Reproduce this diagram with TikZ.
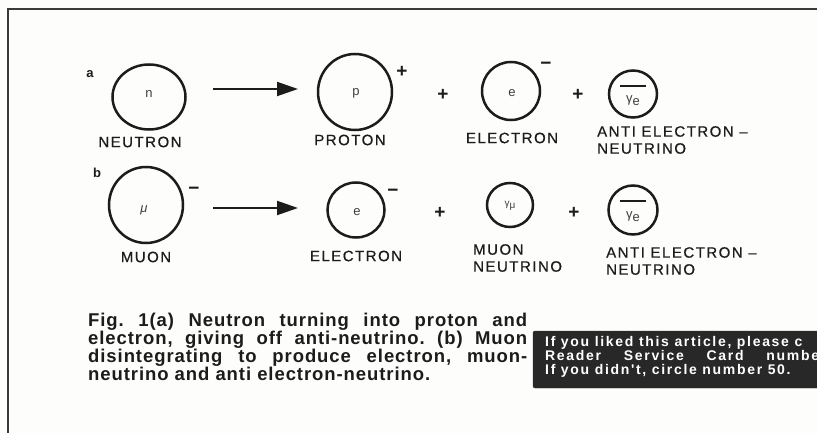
\documentclass[tikz,border=0pt]{standalone}
\usepackage{fontspec}
\setmainfont{Liberation Sans}
\newfontfamily\lblfont[LetterSpace=10,FakeBold=0.6]{Liberation Sans}
\newfontfamily\capfont[LetterSpace=5]{Liberation Sans}
\newfontfamily\boxfont[LetterSpace=12]{Liberation Sans}
\usetikzlibrary{arrows.meta,shapes.geometric}
\definecolor{ink}{HTML}{1C1C1C}
\definecolor{paper}{HTML}{FDFDFB}
\definecolor{boxbg}{HTML}{282828}
\definecolor{frame}{HTML}{3A3A3A}
\frenchspacing
\begin{document}
\begin{tikzpicture}[x=1pt,y=-1pt,
  particle/.style 2 args={ellipse, draw=ink, line width=2.5pt, minimum width=#1, minimum height=#2, inner sep=0pt},
  inner/.style={text=ink!85, font=\fontsize{13}{13}\selectfont, inner sep=0pt},
  lbl/.style={text=ink, font=\lblfont\fontsize{15}{17}\selectfont, inner sep=0pt},
  lbll/.style={lbl, anchor=west, align=left},
  sign/.style={text=ink, font=\bfseries\fontsize{19}{19}\selectfont, inner sep=0pt},
  rowtag/.style={text=ink, font=\bfseries\fontsize{13}{13}\selectfont, inner sep=0pt},
  reaction/.style={draw=ink, line width=2pt, -{Triangle[length=21pt,width=14pt]}},
  bar/.style={draw=ink, line width=1.6pt},
  boxtext/.style={anchor=base west, inner sep=0pt, text=white, font=\boxfont\bfseries\fontsize{14}{14}\selectfont}
]
\path[use as bounding box, fill=paper] (0,0) rectangle (817,433);
\clip (0,0) rectangle (817,433);

% frame
\coordinate (fTL) at (8,9);
\coordinate (fTR) at (817,9);
\coordinate (fBL) at (8,433);
\draw[frame, line width=1.4pt] (fTR) -- (fTL) -- (fBL);

% ---------- row a ----------
\node[rowtag] (taga) at (90,74) {a};
\node[particle={73pt}{65pt}] (n) at (149,97) {};
\node[inner] (nt) at (149,94) {n};
\node[lbl] (nlbl) at (140,142) {NEUTRON};

\coordinate (a1s) at (213,89);
\coordinate (a1e) at (298,89);
\draw[reaction] (a1s) -- (a1e);

\node[particle={74pt}{76pt}] (p) at (355,92) {};
\node[inner] (pt) at (356,93) {p};
\node[sign] (pch) at (402,72) {+};
\node[lbl] (plbl) at (350,140) {PROTON};

\node[sign] (plus1) at (443,95) {+};

\node[particle={58pt}{58pt}] (ea) at (511,91) {};
\node[inner] (eat) at (512,93) {e};
\node[sign] (each) at (546,66) {−};
\node[lbl] (ealbl) at (512,138) {ELECTRON};

\node[sign] (plus2) at (578,95) {+};

\node[particle={48pt}{47pt}] (nua) at (633,94) {};
\draw[bar] ([xshift=-13pt,yshift=8pt]nua.center) -- ([xshift=13pt,yshift=8pt]nua.center);
\node[inner] (nuat) at (633,101) {γ\raisebox{-3pt}{e}};
\node[lbll] (nualbl) at (597,140) {ANTI ELECTRON –\\NEUTRINO};

% ---------- row b ----------
\node[rowtag] (tagb) at (97,173) {b};
\node[particle={74pt}{76pt}] (mu) at (146,205) {};
\node[inner] (mut) at (144,210) {\itshape μ};
\node[sign] (much) at (194,191) {−};
\node[lbl] (mulbl) at (146,257) {MUON};

\coordinate (a2s) at (213,208);
\coordinate (a2e) at (298,208);
\draw[reaction] (a2s) -- (a2e);

\node[particle={57pt}{55pt}] (eb) at (356,210) {};
\node[inner] (ebt) at (357,212) {e};
\node[sign] (ebch) at (393,193) {−};
\node[lbl] (eblbl) at (356,256) {ELECTRON};

\node[sign] (plus3) at (440,213) {+};

\node[particle={46pt}{44pt}] (numu) at (510,205) {};
\node[inner, font=\fontsize{10}{10}\selectfont] (numut) at (510,206) {γ\raisebox{-2pt}{μ}};
\node[lbll] (numulbl) at (473,258) {MUON\\NEUTRINO};

\node[sign] (plus4) at (574,213) {+};

\node[particle={49pt}{49pt}] (nub) at (633,210) {};
\draw[bar] ([xshift=-13pt,yshift=9pt]nub.center) -- ([xshift=13pt,yshift=9pt]nub.center);
\node[inner] (nubt) at (633,217) {γ\raisebox{-3pt}{e}};
\node[lbll] (nublbl) at (606,261) {ANTI ELECTRON –\\NEUTRINO};

% ---------- caption ----------
\node[anchor=north west, inner sep=0pt, text width=439pt, align=justify, text=ink,
      font=\capfont\bfseries\fontsize{18.5}{18}\selectfont] (caption) at (88,313)
 {Fig. 1(a) Neutron turning into proton and\linebreak
  electron, giving off anti-neutrino. (b) Muon\linebreak
  disintegrating to produce electron, muon-\linebreak
  neutrino and anti electron-neutrino.};

% ---------- black box ----------
\coordinate (bxTL) at (533,331);
\coordinate (bxBR) at (840,388);
\draw[fill=boxbg, draw=boxbg, rounded corners=2pt] (bxTL) rectangle (bxBR);
\node[boxtext] (bx1) at (545,346) {If you liked this article, please c};
\node[boxtext] (bx2) at (545,360) {\makebox[281pt][s]{Reader\hfil Service\hfil Card\hfil number}};
\node[boxtext] (bx3) at (545,374) {If you didn't, circle number 50.};
\end{tikzpicture}
\end{document}
